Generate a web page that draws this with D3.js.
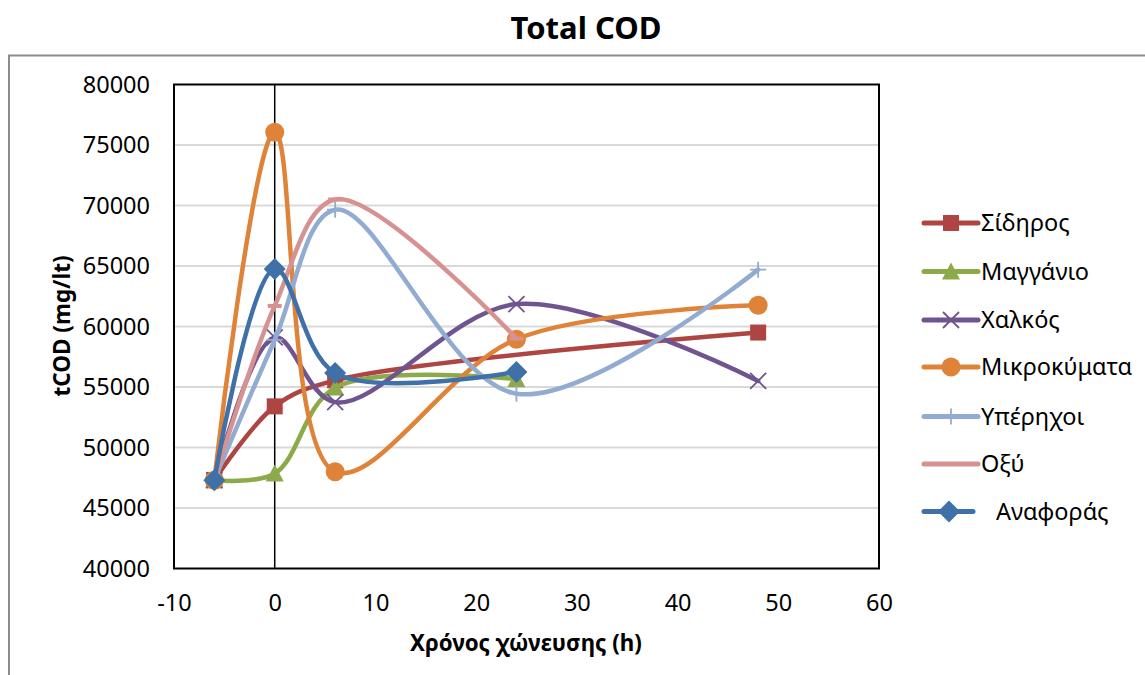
<!DOCTYPE html>
<html><head><meta charset="utf-8">
<script src="https://cdn.jsdelivr.net/npm/d3@7"></script>
<style>body{margin:0;background:#fff}svg{display:block}text{font-family:"Noto Sans","Open Sans",sans-serif}</style>
</head><body>
<svg id="c" width="1145" height="675"></svg>
<script>
const title = "Total COD";
const xTitle = "Χρόνος χώνευσης (h)";
const yTitle = "tCOD (mg/lt)";
const xTicks = [-10, 0, 10, 20, 30, 40, 50, 60];
const yTicks = [40000, 45000, 50000, 55000, 60000, 65000, 70000, 75000, 80000];
const seriesNames = ["Σίδηρος", "Μαγγάνιο", "Χαλκός", "Μικροκύματα", "Υπέρηχοι", "Οξύ", "Αναφοράς"];
const seriesColors = ["#AE4542", "#8CAA4A", "#6F548F", "#DF8339", "#92ACD1", "#D69290", "#3F70A8"];
const seriesMarkers = ["square", "triangle", "x", "circle", "plus", "dash", "diamond"];
const sidirosX = [-6, 0, 6, 48];
const sidirosY = [47300, 53400, 55550, 59500];
const manganioX = [-6, 0, 6, 24];
const manganioY = [47300, 47850, 54950, 55650];
const chalkosX = [-6, 0, 6, 24, 48];
const chalkosY = [47300, 59100, 53750, 61850, 55500];
const mikroX = [-6, 0, 6, 24, 48];
const mikroY = [47300, 76050, 48000, 58950, 61750];
const yperX = [-6, 0, 6, 24, 48];
const yperY = [47300, 58900, 69650, 54450, 64700];
const oxyX = [-6, 0, 6, 24];
const oxyY = [47300, 61700, 70500, 59000];
const anaforaX = [-6, 0, 6, 24];
const anaforaY = [47300, 64750, 56150, 56250];
const seriesX = [sidirosX, manganioX, chalkosX, mikroX, yperX, oxyX, anaforaX];
const seriesY = [sidirosY, manganioY, chalkosY, mikroY, yperY, oxyY, anaforaY];

const svg = d3.select("#c");
const L = 174, R = 879, T = 84.5, B = 568.5;
const x = d3.scaleLinear().domain([-10, 60]).range([L, R]);
const y = d3.scaleLinear().domain([40000, 80000]).range([B, T]);

// outer frame
svg.append("path").attr("d", "M9,680 V55.5 H1150").attr("fill", "none").attr("stroke", "#8c8c8c").attr("stroke-width", 2);

// title
svg.append("text").attr("x", 586).attr("y", 39).attr("text-anchor", "middle")
  .attr("font-size", 31).attr("font-weight", "bold").text(title);

// gridlines
svg.append("g").selectAll("line").data(yTicks.slice(1, -1)).join("line")
  .attr("x1", L).attr("x2", R).attr("y1", d => y(d)).attr("y2", d => y(d))
  .attr("stroke", "#d9d9d9").attr("stroke-width", 2);

// plot border
svg.append("rect").attr("x", L).attr("y", T).attr("width", R - L).attr("height", B - T)
  .attr("fill", "none").attr("stroke", "#000").attr("stroke-width", 2);

// vertical axis line at x=0
svg.append("line").attr("x1", x(0)).attr("x2", x(0)).attr("y1", T).attr("y2", B)
  .attr("stroke", "#000").attr("stroke-width", 1.5);

// y tick labels
const yAxis = d3.axisLeft(y).tickValues(yTicks).tickSize(0).tickPadding(0).tickFormat(d => String(d));
const gy = svg.append("g").attr("transform", `translate(${150},0)`).call(yAxis);
gy.select(".domain").remove();
gy.selectAll("text").attr("font-size", 23.5).attr("fill", "#000").attr("font-family", '"Noto Sans",sans-serif');

// x tick labels
const xAxis = d3.axisBottom(x).tickValues(xTicks).tickSize(0).tickPadding(0).tickFormat(d => String(d));
const gx = svg.append("g").attr("transform", `translate(0,${594})`).call(xAxis);
gx.select(".domain").remove();
gx.selectAll("text").attr("font-size", 23.5).attr("fill", "#000").attr("font-family", '"Noto Sans",sans-serif');

// axis titles
svg.append("text").attr("x", 526).attr("y", 651).attr("text-anchor", "middle")
  .attr("font-size", 22.3).attr("font-weight", "bold").text(xTitle);
svg.append("text").attr("transform", "translate(70,326) rotate(-90)").attr("text-anchor", "middle")
  .attr("font-size", 22.5).attr("font-weight", "bold").text(yTitle);

function marker(g, type, cx, cy, color, scale) {
  const s = scale || 1;
  if (type === "square") {
    g.append("rect").attr("x", cx - 8 * s).attr("y", cy - 8 * s).attr("width", 16 * s).attr("height", 16 * s).attr("fill", color);
  } else if (type === "triangle") {
    g.append("path").attr("d", `M${cx},${cy - 9 * s} L${cx + 9 * s},${cy + 8 * s} L${cx - 9 * s},${cy + 8 * s} Z`).attr("fill", color);
  } else if (type === "circle") {
    g.append("circle").attr("cx", cx).attr("cy", cy).attr("r", 9.5 * s).attr("fill", color);
  } else if (type === "diamond") {
    g.append("path").attr("d", `M${cx},${cy - 11 * s} L${cx + 11 * s},${cy} L${cx},${cy + 11 * s} L${cx - 11 * s},${cy} Z`).attr("fill", color);
  } else if (type === "x") {
    const r = 8 * s;
    g.append("path").attr("d", `M${cx - r},${cy - r} L${cx + r},${cy + r} M${cx - r},${cy + r} L${cx + r},${cy - r}`)
      .attr("stroke", color).attr("stroke-width", 1.8).attr("fill", "none");
  } else if (type === "plus") {
    const r = 8 * s;
    g.append("path").attr("d", `M${cx - r},${cy} L${cx + r},${cy} M${cx},${cy - r} L${cx},${cy + r}`)
      .attr("stroke", color).attr("stroke-width", 1.8).attr("fill", "none");
  } else if (type === "dash") {
    g.append("path").attr("d", `M${cx - 7 * s},${cy} L${cx + 7 * s},${cy}`)
      .attr("stroke", color).attr("stroke-width", 4).attr("fill", "none");
  }
}

const line = d3.line().x(d => x(d[0])).y(d => y(d[1])).curve(d3.curveCatmullRom.alpha(0.5));
const plot = svg.append("g");
seriesNames.forEach((name, i) => {
  const pts = seriesX[i].map((v, j) => [v, seriesY[i][j]]);
  const g = plot.append("g");
  g.append("path").attr("d", line(pts)).attr("fill", "none").attr("stroke", seriesColors[i])
    .attr("stroke-width", 4.5).attr("stroke-linejoin", "round").attr("stroke-linecap", "round");
  pts.forEach(p => marker(g, seriesMarkers[i], x(p[0]), y(p[1]), seriesColors[i]));
});

// legend
const legRows = [223, 271.5, 320, 367, 416.5, 464, 511.5];
const leg = svg.append("g");
seriesNames.forEach((name, i) => {
  const ly = legRows[i];
  const x2 = i === 6 ? 973 : 978;
  leg.append("line").attr("x1", 924).attr("x2", x2).attr("y1", ly).attr("y2", ly)
    .attr("stroke", seriesColors[i]).attr("stroke-width", 5).attr("stroke-linecap", "round");
  const cx = i === 6 ? 949 : 951;
  marker(leg, seriesMarkers[i], cx, ly, seriesColors[i]);
  leg.append("text").attr("x", i === 6 ? 996 : 981).attr("y", ly + 8).attr("font-size", 23.5).text(name);
});
</script>
</body></html>
